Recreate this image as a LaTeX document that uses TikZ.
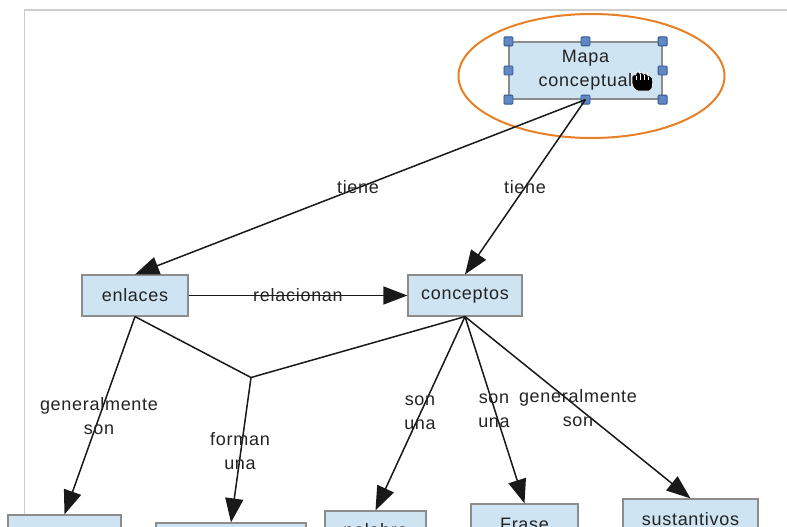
\documentclass[tikz,border=0pt]{standalone}
\usepackage{fontspec}
\setmainfont{Liberation Sans}[LetterSpace=4]
\usetikzlibrary{arrows.meta}
\definecolor{boxfill}{RGB}{207,228,243}
\definecolor{boxline}{RGB}{140,140,140}
\definecolor{ink}{RGB}{25,25,25}
\definecolor{txt}{RGB}{35,35,35}
\definecolor{frameline}{RGB}{205,205,205}
\definecolor{selring}{RGB}{232,128,40}
\definecolor{handlefill}{RGB}{96,136,196}
\definecolor{handleline}{RGB}{52,84,140}
\tikzset{
  concept/.style={draw=boxline, line width=1.2pt, fill=boxfill, inner sep=0pt,
    minimum height=41pt, text=txt, font=\fontsize{18}{24}\selectfont},
  linkline/.style={draw=ink, line width=1.5pt},
  linkarrow/.style={linkline, -{Triangle[length=24pt,width=18pt]}},
  linklabel/.style={text=txt, align=center, inner sep=0pt,
    font=\fontsize{18}{24}\selectfont},
  handle/.style={draw=handleline, fill=handlefill, line width=0.8pt,
    minimum size=9pt, inner sep=0pt, rounded corners=1pt},
}
\begin{document}
\begin{tikzpicture}[x=1pt, y=-1pt]
\path[use as bounding box, clip] (0,0) rectangle (787,527);
\fill[white] (0,0) rectangle (787,527);

% editor canvas edge
\draw[frameline, line width=2pt] (24,10.5) -- (787,10.5);
\draw[frameline, line width=1.5pt] (24.5,10) -- (24.5,527);

% concepts
\node[concept, minimum width=153pt, minimum height=57pt, align=center] (mapa) at (585.5,70.5) {Mapa\\conceptual};
\node[concept, minimum width=106pt] (enlaces) at (135,295.5) {enlaces};
\node[concept, minimum width=114pt] (conceptos) at (465,295.5) {conceptos};
\node[concept, minimum width=113pt] (b1) at (64.5,535.5) {};
\node[concept, minimum width=150pt] (b2) at (231,543.5) {};
\node[concept, minimum width=101pt] (palabra) at (375.5,531.5) {palabra};
\node[concept, minimum width=107pt] (frase) at (524.5,524.5) {Frase};
\node[concept, minimum width=135pt] (sust) at (690.5,519.5) {sustantivos};

% grab cursor over the selected concept
\begin{scope}[shift={(631,71)}]
  \fill[black, draw=white, line width=0.6pt, rounded corners=2pt]
    (1,9) -- (1,4) -- (5,4) -- (5,1) -- (9,1) -- (9,2) -- (13,2) -- (13,3) -- (17,3)
    -- (17,5) -- (21,5) -- (22,13) -- (20,20) -- (5,20) -- (1,14) -- cycle;
  \draw[white, line width=0.5pt] (5,5) -- (5,9) (9,3) -- (9,9) (13,4) -- (13,9) (17,6) -- (17,9);
\end{scope}

% selection handles
\foreach \a in {north west,north,north east,west,east,south west,south,south east}
  \node[handle] (h-\a) at (mapa.\a) {};

% selection ring
\draw[selring, line width=2pt] (591.5,76) ellipse [x radius=133pt, y radius=62pt];

% links
\draw[linkarrow] (mapa.south) -- (enlaces.north);
\draw[linkarrow] (mapa.south) -- (conceptos.north);
\node[linklabel] (l1) at (358,187) {tiene};
\node[linklabel] (l2) at (525,187) {tiene};

\draw[linkarrow] (enlaces.east) -- (conceptos.west);
\node[linklabel] (l3) at (298,295) {relacionan};

\coordinate (join) at (251,377.5);
\draw[linkline] (enlaces.south) -- (join) -- (conceptos.south);
\draw[linkarrow] (join) -- (b2.north);
\node[linklabel] (l4) at (240,451) {forman\\una};

\draw[linkarrow] (enlaces.south) -- (b1.north);
\node[linklabel] (l5) at (99,416) {generalmente\\son};

\draw[linkarrow] (conceptos.south) -- (palabra.north);
\node[linklabel] (l6) at (420,413) {son\\una};
\draw[linkarrow] (conceptos.south) -- (frase.north);
\node[linklabel] (l7) at (494,411) {son\\una};
\draw[linkarrow] (conceptos.south) -- (sust.north);
\node[linklabel] (l8) at (578,408) {generalmente\\son};
\end{tikzpicture}
\end{document}
